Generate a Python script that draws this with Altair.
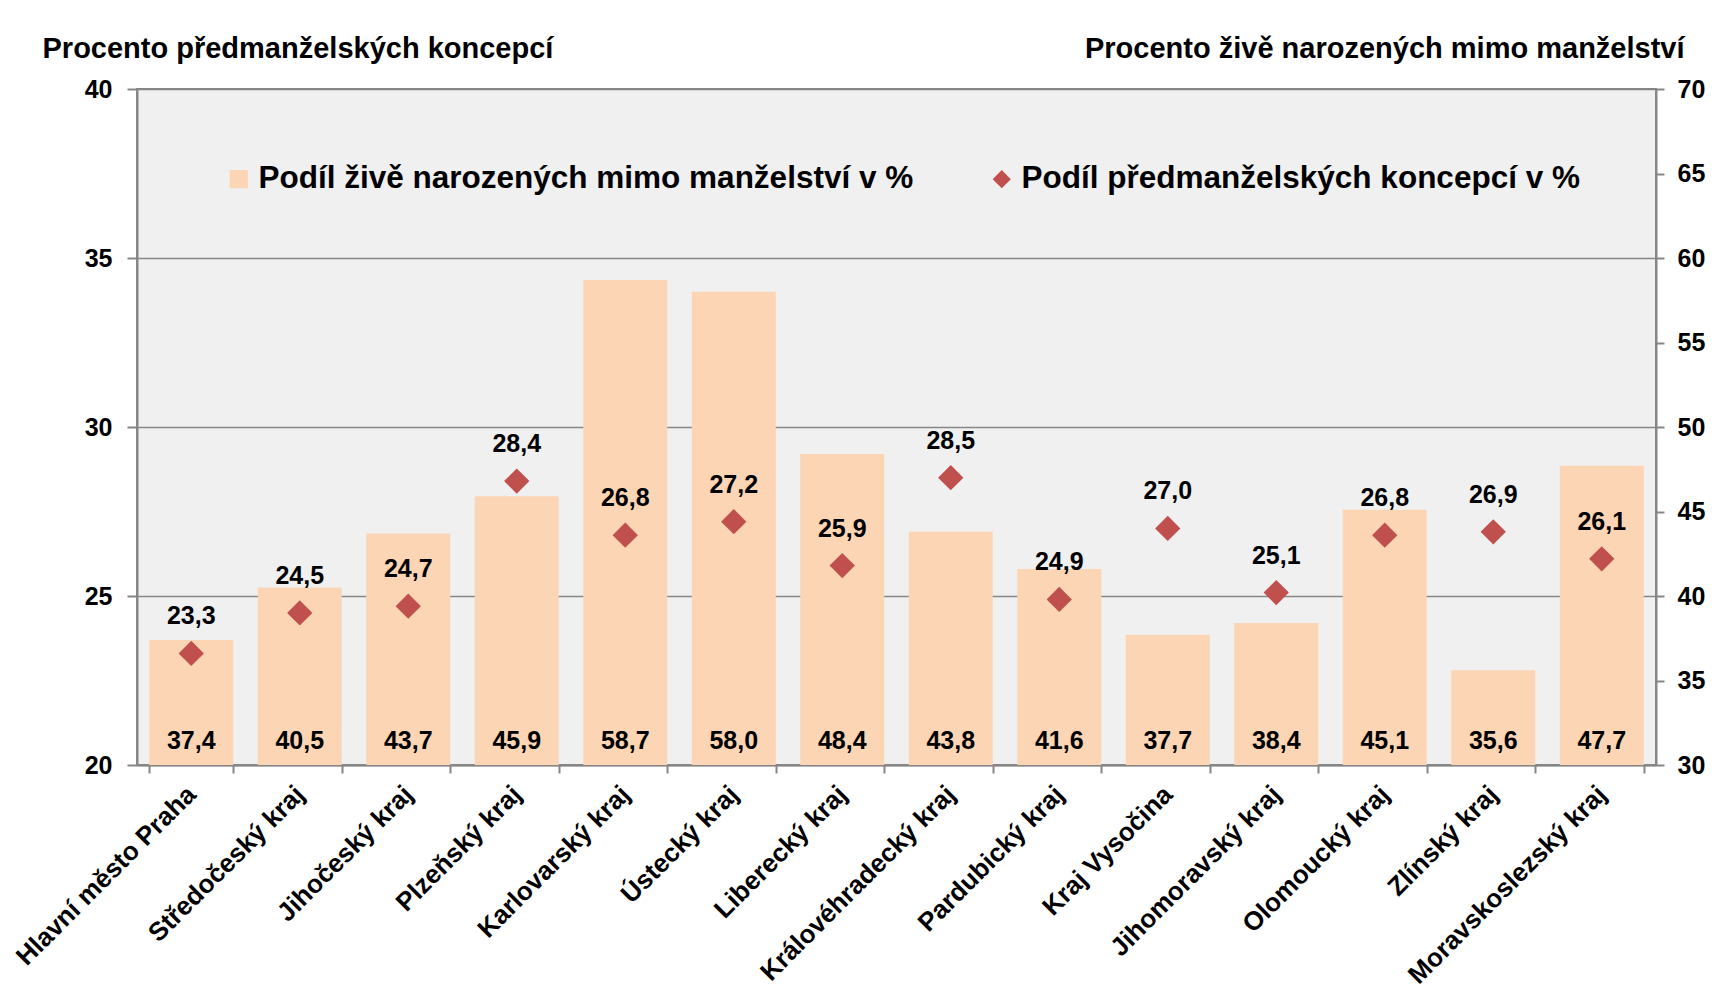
import altair as alt
import pandas as pd

regions = ["Hlavní město Praha", "Středočeský kraj", "Jihočeský kraj", "Plzeňský kraj",
           "Karlovarský kraj", "Ústecký kraj", "Liberecký kraj", "Královéhradecký kraj",
           "Pardubický kraj", "Kraj Vysočina", "Jihomoravský kraj", "Olomoucký kraj",
           "Zlínský kraj", "Moravskoslezský kraj"]
births_out = [37.4, 40.5, 43.7, 45.9, 58.7, 58.0, 48.4, 43.8, 41.6, 37.7, 38.4, 45.1, 35.6, 47.7]
concept = [23.3, 24.5, 24.7, 28.4, 26.8, 27.2, 25.9, 28.5, 24.9, 27.0, 25.1, 26.8, 26.9, 26.1]

S1 = "Podíl živě narozených mimo manželství v %"
S2 = "Podíl předmanželských koncepcí v %"
BAR_COLOR = "#FCD5B5"
PT_COLOR = "#C0504D"
FONT = "Liberation Sans"

df = pd.DataFrame({"region": regions, "births": births_out, "concept": concept})
df["births_lbl"] = [f"{v:.1f}".replace(".", ",") for v in births_out]
df["concept_lbl"] = [f"{v:.1f}".replace(".", ",") for v in concept]

x_enc = alt.X("region:N", sort=regions, title=None,
              scale=alt.Scale(paddingInner=0.226, paddingOuter=0.113),
              axis=alt.Axis(labelAngle=-45, labelAlign="right", labelBaseline="middle",
                            labelFontSize=26, labelFontWeight="bold", labelFont=FONT,
                            labelColor="black", labelPadding=17, labelLimit=500,
                            tickBand="extent", tickSize=8, tickColor="#868686", tickWidth=2,
                            domainColor="#868686", domainWidth=2))

color_scale = alt.Scale(domain=[S1, S2], range=[BAR_COLOR, PT_COLOR])
shape_scale = alt.Scale(domain=[S1, S2], range=["square", "diamond"])
legend = alt.Legend(title=None, orient="none", legendX=86, legendY=74, direction="horizontal",
                    labelFontSize=31.5, labelFont=FONT, labelFontWeight="bold", labelColor="black",
                    symbolSize=330, labelOffset=4, columnPadding=72, padding=0,
                    symbolStrokeWidth=0, labelLimit=900)

base = alt.Chart(df)

y_right = alt.Y("births:Q", title="Procento živě narozených mimo manželství",
                scale=alt.Scale(domain=[30, 70], nice=False, zero=False),
                axis=alt.Axis(orient="right", values=[30, 35, 40, 45, 50, 55, 60, 65, 70],
                              grid=False, labelFontSize=25, labelFontWeight="bold",
                              labelFont=FONT, labelColor="black", labelPadding=13,
                              tickSize=8, tickColor="#868686", tickWidth=2,
                              domainColor="#868686", domainWidth=2,
                              titleAngle=0, titleAlign="right", titleBaseline="middle",
                              titleX=28, titleY=-41, titleFontSize=29, titleFont=FONT,
                              titleFontWeight="bold", titleColor="black"))

bars = base.transform_calculate(series=f"'{S1}'").mark_bar(clip=True).encode(
    x=x_enc,
    y=y_right,
    y2=alt.datum(30),
    color=alt.Color("series:N", scale=color_scale, legend=legend),
)
bar_labels = base.mark_text(fontSize=25, fontWeight="bold", font=FONT, color="black",
                            baseline="middle", dy=-24).encode(
    x=alt.X("region:N", sort=regions),
    y=alt.datum(30),
    text="births_lbl:N",
)
bar_layer = alt.layer(bars, bar_labels)

y_left = alt.Y("concept:Q", title="Procento předmanželských koncepcí",
               scale=alt.Scale(domain=[20, 40], nice=False, zero=False),
               axis=alt.Axis(orient="left", values=[20, 25, 30, 35, 40],
                             grid=True, gridColor="#868686", gridWidth=1.5,
                             labelFontSize=25, labelFontWeight="bold",
                             labelFont=FONT, labelColor="black", labelPadding=15,
                             tickSize=10, tickColor="#868686", tickWidth=2,
                             domainColor="#868686", domainWidth=2,
                             titleAngle=0, titleAlign="left", titleBaseline="middle",
                             titleX=-95, titleY=-41, titleFontSize=29, titleFont=FONT,
                             titleFontWeight="bold", titleColor="black"))

points = base.transform_calculate(series=f"'{S2}'").mark_point(filled=True, size=640, opacity=1).encode(
    x=alt.X("region:N", sort=regions),
    y=y_left,
    color=alt.Color("series:N", scale=color_scale, legend=legend),
    shape=alt.Shape("series:N", scale=shape_scale, legend=legend),
)
pt_labels = base.mark_text(fontSize=25, fontWeight="bold", font=FONT, color="black",
                           baseline="middle", dy=-37).encode(
    x=alt.X("region:N", sort=regions),
    y=alt.Y("concept:Q"),
    text="concept_lbl:N",
)
pt_layer = alt.layer(points, pt_labels)

chart = alt.layer(bar_layer, pt_layer).resolve_scale(y="independent").properties(
    width=1519, height=676,
    autosize=alt.AutoSizeParams(type="none"),
    padding={"left": 129, "top": 81, "right": 53, "bottom": 225},
    background="white",
).configure_view(fill="#F0F0F0", stroke="#868686", strokeWidth=2)

chart.save("out.html", embed_options={"renderer": "svg", "actions": False})
